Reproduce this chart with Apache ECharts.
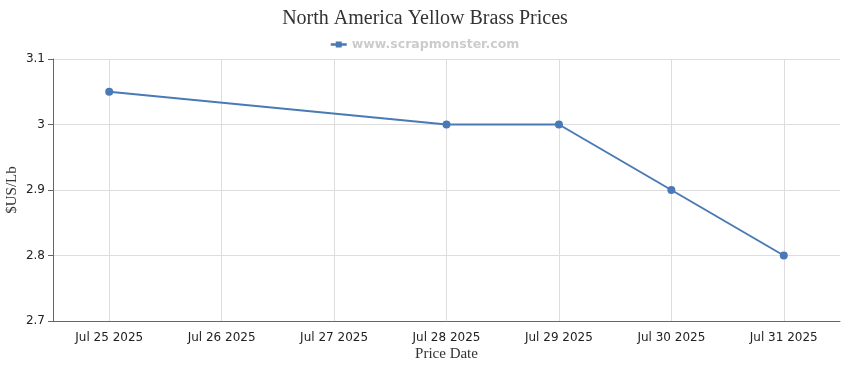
<!DOCTYPE html>
<html><head><meta charset="utf-8">
<script src="https://cdn.jsdelivr.net/npm/echarts@6/dist/echarts.min.js"></script>
<style>html,body{margin:0;padding:0;background:#fff}#c{width:850px;height:370px}</style>
</head><body><div id="c"></div>
<script>
const categories = ['Jul 25 2025','Jul 26 2025','Jul 27 2025','Jul 28 2025','Jul 29 2025','Jul 30 2025','Jul 31 2025'];
const prices = [3.05, null, null, 3.0, 3.0, 2.9, 2.8];
const yTicks = {min: 2.7, max: 3.1, interval: 0.1};
const chart = echarts.init(document.getElementById('c'));
chart.setOption({
  animation: false,
  title: {text: 'North America Yellow Brass Prices', left: 'center', top: 4,
    textStyle: {fontFamily: 'Liberation Serif', fontSize: 20, fontWeight: 'normal', color: '#333'}},
  legend: {top: 33, left: 'center', itemWidth: 16, itemHeight: 6, itemGap: 5,
    textStyle: {fontFamily: 'DejaVu Sans', fontWeight: 'bold', fontSize: 12.5, color: '#ccc'},
    data: [{name: 'www.scrapmonster.com', icon: 'path://M0,1.8L5,1.8L5,0L11,0L11,1.8L16,1.8L16,4.2L11,4.2L11,6L5,6L5,4.2L0,4.2Z'}]},
  grid: {left: 53, right: 10, top: 59, bottom: 49, outerBoundsMode: 'none'},
  xAxis: {type: 'category', data: categories, boundaryGap: true,
    name: 'Price Date', nameLocation: 'middle', nameGap: 26, nameMoveOverlap: false,
    nameTextStyle: {fontFamily: 'Liberation Serif', fontSize: 15, color: '#333'},
    axisLine: {lineStyle: {color: '#666'}},
    axisTick: {alignWithLabel: true, length: 5, lineStyle: {color: '#666'}},
    axisLabel: {fontFamily: 'DejaVu Sans', fontSize: 12, color: '#222', margin: 11},
    splitLine: {show: true, alignWithLabel: true, lineStyle: {color: '#ddd'}}},
  yAxis: {type: 'value', min: yTicks.min, max: yTicks.max, interval: yTicks.interval,
    name: '$US/Lb', nameLocation: 'middle', nameGap: 33, nameMoveOverlap: false,
    nameTextStyle: {fontFamily: 'Liberation Serif', fontSize: 15, color: '#333'},
    axisLine: {show: true, lineStyle: {color: '#666'}},
    axisTick: {show: true, length: 5, lineStyle: {color: '#666'}},
    axisLabel: {fontFamily: 'DejaVu Sans', fontSize: 12, color: '#222', margin: 8},
    splitLine: {lineStyle: {color: '#ddd'}}},
  series: [{name: 'www.scrapmonster.com', type: 'line', data: prices, connectNulls: true,
    symbol: 'circle', symbolSize: 8, itemStyle: {color: '#4a7ab5'},
    lineStyle: {width: 2, color: '#4a7ab5'}}]
});
</script></body></html>
